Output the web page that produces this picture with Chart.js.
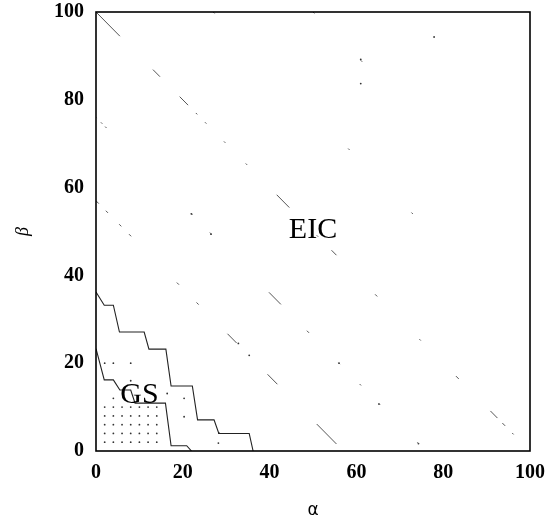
<!DOCTYPE html>
<html>
<head>
<meta charset="utf-8">
<script src="https://cdn.jsdelivr.net/npm/chart.js@4/dist/chart.umd.min.js"></script>
<style>
  html, body { margin: 0; padding: 0; background: #fff; }
  #wrap { width: 559px; height: 524px; }
</style>
</head>
<body>
<div id="wrap"><canvas id="chart" width="559" height="524"></canvas></div>
<script>
// tick labels
const xTicks = [0, 20, 40, 60, 80, 100];
const yTicks = [0, 20, 40, 60, 80, 100];

// outer boundary (upper step curve)
const outerX = [0, 1.9, 4.0, 5.4, 11.1, 12.2, 16.1, 17.3, 22.2, 23.4, 27.2, 28.3, 35.3, 36.2];
const outerY = [36.2, 33.2, 33.2, 27.1, 27.1, 23.2, 23.2, 14.8, 14.8, 7.1, 7.1, 4.0, 4.0, 0];

// GS boundary (lower step curve)
const innerX = [0, 1.9, 4.0, 5.5, 8.0, 9.0, 16.0, 17.3, 20.9, 22.0];
const innerY = [23.3, 16.2, 16.2, 13.9, 13.9, 10.9, 10.9, 1.2, 1.2, 0];

// faint lines alpha + beta = const
const diagSums = [57, 76, 100, 127, 150];

// sample grid inside GS
const gridCols = [2, 4, 6, 8, 10, 12, 14];
const gridRows = [2, 4, 6, 8, 10];
// isolated dots
const dotX = [2, 4, 8, 8, 4, 16.4, 20.3, 20.3, 28.3, 32.8, 35.3, 28.2, 74.3, 61, 61, 77.9, 22, 26.5, 56, 65.2];
const dotY = [20, 20, 20, 16, 12, 13.1, 12, 7.8, 4.1, 24.5, 21.8, 1.8, 1.7, 89.2, 83.7, 94.3, 54, 49.4, 20, 10.7];

// region labels
const regionLabels = ["EIC", "GS"];
const regionAt = [[50, 50.4], [10, 12.7]];

// dash patterns for the faded diagonals (same order as diagSums)
const diagDash = [
  [4, 10, 3, 16, 3, 11, 3, 65, 3, 25, 3, 41, 13, 44, 14, 56, 28, 20],
  [1, 6, 2, 4, 2, 120, 2, 25, 2, 82, 17, 37, 3, 42, 2, 28, 2, 25, 2, 53, 2, 30],
  [34, 47, 10, 28, 12, 11, 2, 11, 2, 25, 2, 29, 2, 42, 18, 39, 2, 19, 7, 55, 3, 60, 2, 50, 4, 45, 10, 7, 4, 10, 2, 30],
  [2, 190, 2, 88, 2, 200],
  [2, 66, 2, 300]
];

const toPts = (xs, ys) => xs.map((x, i) => ({ x: x, y: ys[i] }));

const diagSets = diagSums.map((s, i) => ({
  type: "line",
  data: s <= 100 ? [{ x: 0, y: s }, { x: s, y: 0 }] : [{ x: s - 100, y: 100 }, { x: 100, y: s - 100 }],
  borderColor: "#555",
  borderWidth: 1,
  borderDash: diagDash[i],
  pointRadius: 0,
  showLine: true
}));

const gridPts = [];
gridRows.forEach((r) => gridCols.forEach((c) => gridPts.push({ x: c, y: r })));

const serif = "'Liberation Serif', 'Times New Roman', serif";

//frame + region labels
const framePlugin = {
  id: "frame",
  afterDatasetsDraw(chart) {
    const { ctx, chartArea: a, scales } = chart;
    ctx.save();
    ctx.strokeStyle = "#000";
    ctx.lineWidth = 1.6;
    ctx.strokeRect(a.left, a.top, a.right - a.left, a.bottom - a.top);
    ctx.fillStyle = "#000";
    ctx.font = "30px " + serif;
    ctx.textAlign = "center";
    ctx.textBaseline = "middle";
    regionLabels.forEach((t, i) => {
      ctx.fillText(t, scales.x.getPixelForValue(regionAt[i][0]), scales.y.getPixelForValue(regionAt[i][1]));
    });
    ctx.restore();
  }
};

new Chart(document.getElementById("chart"), {
  type: "scatter",
  data: {
    datasets: [
      ...diagSets,
      {
        type: "line",
        data: toPts(outerX, outerY),
        borderColor: "#222",
        borderWidth: 1.1,
        pointRadius: 0,
        showLine: true
      },
      {
        type: "line",
        data: toPts(innerX, innerY),
        borderColor: "#222",
        borderWidth: 1.1,
        pointRadius: 0,
        showLine: true
      },
      {
        data: gridPts.concat(toPts(dotX, dotY)),
        pointRadius: 0.9,
        pointBorderWidth: 0,
        pointBackgroundColor: "#333",
        showLine: false
      }
    ]
  },
  options: {
    responsive: false,
    animation: false,
    events: [],
    layout: { padding: { top: 12, right: 29, left: 0, bottom: 0 } },
    plugins: { legend: { display: false }, tooltip: { enabled: false } },
    scales: {
      x: {
        type: "linear",
        min: 0,
        max: 100,
        afterBuildTicks: (s) => { s.ticks = xTicks.map((v) => ({ value: v })); },
        afterFit: (s) => { s.height = 73; },
        ticks: { color: "#000", font: { family: serif, size: 20, weight: "bold" }, padding: 10, maxRotation: 0 },
        grid: { display: false, drawTicks: false },
        border: { display: false },
        title: {
          display: true,
          text: "α",
          color: "#000",
          font: { family: "'DejaVu Sans', sans-serif", size: 17 },
          padding: { top: 0, bottom: 3 }
        }
      },
      y: {
        type: "linear",
        min: 0,
        max: 100,
        afterBuildTicks: (s) => { s.ticks = yTicks.map((v) => ({ value: v })); },
        afterFit: (s) => { s.width = 96; s.paddingTop = 0; },
        ticks: { color: "#000", font: { family: serif, size: 20, weight: "bold" }, padding: 12 },
        grid: { display: false, drawTicks: false },
        border: { display: false },
        title: {
          display: true,
          text: "β",
          color: "#000",
          font: { family: serif, size: 18, style: "italic" },
          padding: { top: 12, bottom: 0 }
        }
      }
    }
  },
  plugins: [framePlugin]
});
</script>
</body>
</html>
